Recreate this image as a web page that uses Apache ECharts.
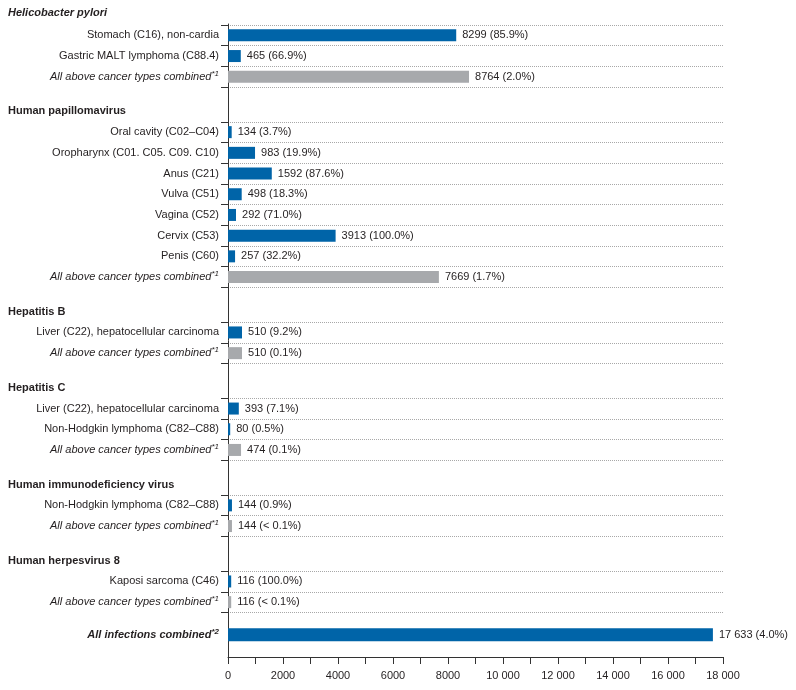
<!DOCTYPE html>
<html>
<head>
<meta charset="utf-8">
<script src="https://cdn.jsdelivr.net/npm/echarts@6/dist/echarts.min.js"></script>
<style>
html,body{margin:0;padding:0;background:#fff;}
#chart{width:796px;height:690px;}
</style>
</head>
<body>
<div id="chart"></div>
<script>
// ---------------- DATA ----------------
var COMBINED = 'All above cancer types combined';
var ALL_COMBINED = 'All infections combined';

var groupNames = ['Helicobacter pylori', 'Human papillomavirus', 'Hepatitis B', 'Hepatitis C', 'Human immunodeficiency virus', 'Human herpesvirus 8'];

var hpCats = ['Stomach (C16), non-cardia', 'Gastric MALT lymphoma (C88.4)', COMBINED];
var hpValues = [8299, 465, 8764];
var hpPct = ['85.9%', '66.9%', '2.0%'];

var hpvCats = ['Oral cavity (C02–C04)', 'Oropharynx (C01. C05. C09. C10)', 'Anus (C21)', 'Vulva (C51)', 'Vagina (C52)', 'Cervix (C53)', 'Penis (C60)', COMBINED];
var hpvValues = [134, 983, 1592, 498, 292, 3913, 257, 7669];
var hpvPct = ['3.7%', '19.9%', '87.6%', '18.3%', '71.0%', '100.0%', '32.2%', '1.7%'];

var hbvCats = ['Liver (C22), hepatocellular carcinoma', COMBINED];
var hbvValues = [510, 510];
var hbvPct = ['9.2%', '0.1%'];

var hcvCats = ['Liver (C22), hepatocellular carcinoma', 'Non-Hodgkin lymphoma (C82–C88)', COMBINED];
var hcvValues = [393, 80, 474];
var hcvPct = ['7.1%', '0.5%', '0.1%'];

var hivCats = ['Non-Hodgkin lymphoma (C82–C88)', COMBINED];
var hivValues = [144, 144];
var hivPct = ['0.9%', '< 0.1%'];

var hhv8Cats = ['Kaposi sarcoma (C46)', COMBINED];
var hhv8Values = [116, 116];
var hhv8Pct = ['100.0%', '< 0.1%'];

var allCats = [ALL_COMBINED];
var allValues = [17633];
var allPct = ['4.0%'];

var xTickLabels = ['0', '2000', '4000', '6000', '8000', '10 000', '12 000', '14 000', '16 000', '18 000'];

// ---------------- STYLE / LAYOUT ----------------
var BLUE = '#0064a8';
var GREY = '#a7a9ac';
var TEXT = '#231f20';
var FONT = '"Liberation Sans", Arial, sans-serif';
var LEFT = 228, RIGHT = 73;
var PITCH = 20.7, GAP = 34.7, START = 25;
var X_MAX = 18000;

var groups = [
  {cats: hpCats, values: hpValues, pct: hpPct},
  {cats: hpvCats, values: hpvValues, pct: hpvPct},
  {cats: hbvCats, values: hbvValues, pct: hbvPct},
  {cats: hcvCats, values: hcvValues, pct: hcvPct},
  {cats: hivCats, values: hivValues, pct: hivPct},
  {cats: hhv8Cats, values: hhv8Values, pct: hhv8Pct}
];

function fmtNum(v) {
  var s = String(v);
  if (v >= 10000) s = s.slice(0, s.length - 3) + ' ' + s.slice(s.length - 3);
  return s;
}

var grids = [{left: LEFT, right: RIGHT, top: 24, bottom: 33}];
var xAxes = [{
  gridIndex: 0, type: 'value', min: 0, max: X_MAX, interval: 1000,
  axisLine: {show: true, onZero: false, lineStyle: {color: '#333', width: 1}},
  axisTick: {show: true, length: 7, lineStyle: {color: '#333'}},
  axisLabel: {
    color: TEXT, fontSize: 11, fontFamily: FONT, margin: 13,
    formatter: function (v) { return v % 2000 === 0 ? xTickLabels[v / 2000] : ''; }
  },
  splitLine: {show: false}
}];
var yAxes = [{
  gridIndex: 0, type: 'value', min: 0, max: 1,
  axisLine: {show: true, onZero: false, lineStyle: {color: '#333', width: 1}},
  axisTick: {show: false}, axisLabel: {show: false}, splitLine: {show: false}
}];
var series = [];
var titles = [];

var richLabel = {
  ci: {fontStyle: 'italic', fontSize: 11, fontFamily: FONT, color: TEXT, lineHeight: 14},
  bi: {fontStyle: 'italic', fontWeight: 'bold', fontSize: 11, fontFamily: FONT, color: TEXT, lineHeight: 14},
  sup: {fontStyle: 'italic', fontSize: 8, fontFamily: FONT, color: TEXT, lineHeight: 8, verticalAlign: 'top'},
  supb: {fontStyle: 'italic', fontWeight: 'bold', fontSize: 8, fontFamily: FONT, color: TEXT, lineHeight: 8, verticalAlign: 'top'}
};

function catFormatter(v) {
  if (v === COMBINED) return '{ci|' + v + '}{sup|*1}';
  if (v === ALL_COMBINED) return '{bi|' + v + '}{supb|*2}';
  return v;
}

function addGroup(g, top, height, isAll) {
  var gi = grids.length;
  grids.push({left: LEFT, right: RIGHT, top: top, height: height});
  xAxes.push({gridIndex: gi, type: 'value', min: 0, max: X_MAX, show: false});
  yAxes.push({
    gridIndex: gi, type: 'category', inverse: true, data: g.cats,
    axisLine: {show: false},
    axisTick: {show: !isAll, length: 7, lineStyle: {color: '#333'}},
    axisLabel: {color: TEXT, fontSize: 11, fontFamily: FONT, margin: 9, formatter: catFormatter, rich: richLabel},
    splitLine: {show: !isAll, lineStyle: {type: 'dotted', color: '#a8a8a8', width: 1}}
  });
  var last = g.values.length - 1;
  series.push({
    type: 'bar', xAxisIndex: gi, yAxisIndex: gi,
    barWidth: isAll ? 13 : 12,
    data: g.values,
    itemStyle: {color: function (p) { return (!isAll && p.dataIndex === last) ? GREY : BLUE; }},
    label: {
      show: true, position: 'right', distance: 6,
      color: TEXT, fontSize: 11, fontFamily: FONT,
      formatter: function (p) { return fmtNum(p.value) + ' (' + g.pct[p.dataIndex] + ')'; }
    },
    animation: false
  });
}

var y = START;
groups.forEach(function (g, i) {
  var h = g.cats.length * PITCH;
  titles.push({
    text: groupNames[i], left: 8, top: y - (i === 0 ? 18 : 16), padding: 0,
    textStyle: {fontSize: 11, fontWeight: 'bold', fontStyle: i === 0 ? 'italic' : 'normal', color: TEXT, fontFamily: FONT}
  });
  addGroup(g, y, h, false);
  y += h + (i < groups.length - 1 ? GAP : 0);
});
addGroup({cats: allCats, values: allValues, pct: allPct}, y, 657 - y, true);

var chart = echarts.init(document.getElementById('chart'), null, {renderer: 'canvas'});
chart.setOption({
  animation: false,
  backgroundColor: '#fff',
  title: titles,
  grid: grids,
  xAxis: xAxes,
  yAxis: yAxes,
  series: series
});
</script>
</body>
</html>
